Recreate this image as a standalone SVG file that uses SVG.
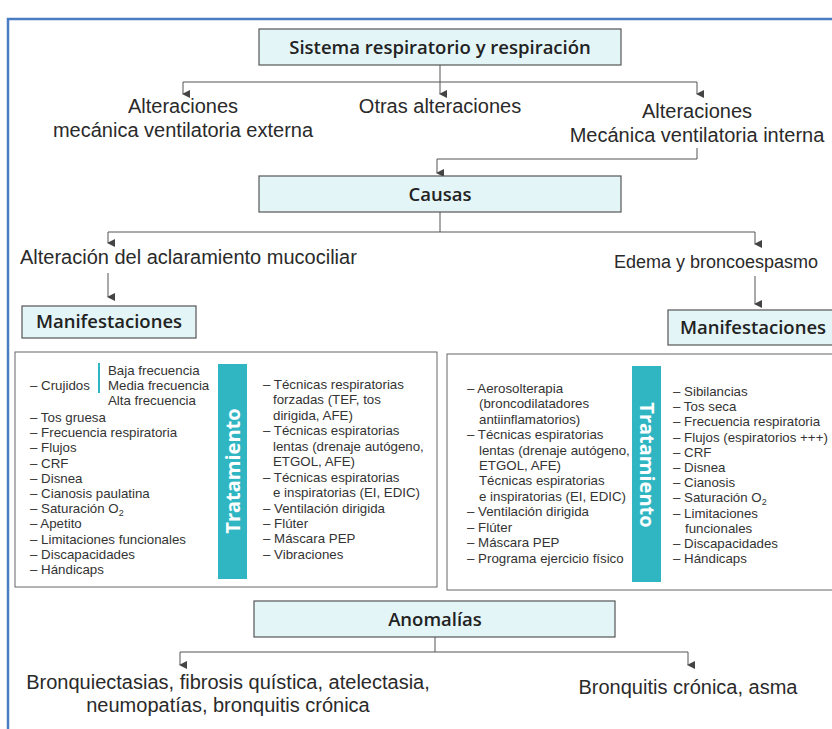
<svg xmlns="http://www.w3.org/2000/svg" width="832" height="729" viewBox="0 0 832 729">
<defs>
<marker id="ah" markerWidth="8" markerHeight="8" refX="4" refY="7" orient="auto-start-reverse" markerUnits="userSpaceOnUse" viewBox="0 0 8 8">
<path d="M0,0 L8,0 L4,8 Z" fill="#444"/>
</marker>
<style>
.hd{fill:#e3f5f7;stroke:#555;stroke-width:1.2}
.ht{font-family:"Open Sans","Liberation Sans",sans-serif;font-weight:600;font-size:18.5px;fill:#222;text-anchor:middle}
.lb{font-family:"Liberation Sans",Arial,sans-serif;font-size:20px;fill:#2a2a2a}
.li{font-family:"Liberation Sans",Arial,sans-serif;font-size:13.3px;fill:#333}
.bx{fill:#fff;stroke:#666;stroke-width:1}
.bar{fill:#2fb6c2}
.bt{font-family:"Open Sans","Liberation Sans",sans-serif;font-weight:700;font-size:20px;fill:#fff;text-anchor:middle}
.cn{fill:none;stroke:#555;stroke-width:1}
.ca{fill:none;stroke:#555;stroke-width:1;marker-end:url(#ah)}
</style>
</defs>
<rect x="0" y="0" width="832" height="729" fill="#fff"/>
<path d="M8,729 L8,19 L832,19" fill="none" stroke="#4a7cc4" stroke-width="2.5"/>

<g id="connectors">
<path class="cn" d="M440,65 L440,82 M183,82 L697,82"/>
<path class="ca" d="M183,82 L183,94"/>
<path class="ca" d="M440,82 L440,94"/>
<path class="ca" d="M697,82 L697,94"/>
<path class="cn" d="M697,148 L697,159 L437,159"/>
<path class="ca" d="M437,159 L437,173"/>
<path class="cn" d="M440,212 L440,232 M108,232 L755,232"/>
<path class="ca" d="M108,232 L108,243"/>
<path class="ca" d="M755,232 L755,244"/>
<path class="ca" d="M108,273 L108,297"/>
<path class="ca" d="M755,276 L755,304"/>
<path class="cn" d="M435,637 L435,652 M180,652 L688,652"/>
<path class="ca" d="M180,652 L180,665"/>
<path class="ca" d="M688,652 L688,665"/>
</g>

<g id="sistema">
<rect class="hd" x="259" y="29" width="362" height="36"/>
<text class="ht" x="440" y="54">Sistema respiratorio y respiración</text>
</g>

<g id="alt-externa">
<text class="lb" x="183" y="113" text-anchor="middle">Alteraciones</text>
<text class="lb" x="183" y="137" text-anchor="middle">mecánica ventilatoria externa</text>
</g>
<g id="otras">
<text class="lb" x="440" y="113" text-anchor="middle">Otras alteraciones</text>
</g>
<g id="alt-interna">
<text class="lb" x="697" y="118" text-anchor="middle">Alteraciones</text>
<text class="lb" x="697" y="142" text-anchor="middle">Mecánica ventilatoria interna</text>
</g>

<g id="causas">
<rect class="hd" x="259" y="176" width="362" height="36"/>
<text class="ht" x="440" y="201">Causas</text>
</g>

<g id="aclaramiento">
<text class="lb" x="20" y="264">Alteración del aclaramiento mucociliar</text>
</g>
<g id="edema">
<text class="lb" x="614" y="268" style="font-size:18px">Edema y broncoespasmo</text>
</g>

<g id="manif-left">
<rect class="hd" x="22" y="306" width="174" height="32"/>
<text class="ht" x="109" y="328">Manifestaciones</text>
</g>
<g id="manif-right">
<rect class="hd" x="668" y="310" width="170" height="35"/>
<text class="ht" x="753" y="334">Manifestaciones</text>
</g>

<g id="box-left">
<rect class="bx" x="15" y="352" width="422" height="235"/>
<text class="li" x="30" y="390">– Crujidos</text>
<line x1="99" y1="363" x2="99" y2="393" stroke="#2fb6c2" stroke-width="2"/>
<text class="li" x="108" y="375">Baja frecuencia</text>
<text class="li" x="108" y="390">Media frecuencia</text>
<text class="li" x="108" y="405">Alta frecuencia</text>
<text class="li" x="30" y="422">– Tos gruesa</text>
<text class="li" x="30" y="437">– Frecuencia respiratoria</text>
<text class="li" x="30" y="452">– Flujos</text>
<text class="li" x="30" y="468">– CRF</text>
<text class="li" x="30" y="483">– Disnea</text>
<text class="li" x="30" y="498">– Cianosis paulatina</text>
<text class="li" x="30" y="513">– Saturación O<tspan font-size="9" dy="3">2</tspan></text>
<text class="li" x="30" y="528">– Apetito</text>
<text class="li" x="30" y="544">– Limitaciones funcionales</text>
<text class="li" x="30" y="559">– Discapacidades</text>
<text class="li" x="30" y="574">– Hándicaps</text>
<rect class="bar" x="218" y="364" width="29" height="215"/>
<text class="bt" transform="translate(239.5,471) rotate(-90)">Tratamiento</text>
<text class="li" x="263" y="389">– Técnicas respiratorias</text>
<text class="li" x="273" y="404">forzadas (TEF, tos</text>
<text class="li" x="273" y="420">dirigida, AFE)</text>
<text class="li" x="263" y="435">– Técnicas espiratorias</text>
<text class="li" x="273" y="451">lentas (drenaje autógeno,</text>
<text class="li" x="273" y="466">ETGOL, AFE)</text>
<text class="li" x="263" y="482">– Técnicas espiratorias</text>
<text class="li" x="273" y="497">e inspiratorias (EI, EDIC)</text>
<text class="li" x="263" y="513">– Ventilación dirigida</text>
<text class="li" x="263" y="528">– Flúter</text>
<text class="li" x="263" y="543">– Máscara PEP</text>
<text class="li" x="263" y="559">– Vibraciones</text>
</g>

<g id="box-right">
<rect class="bx" x="447" y="354" width="391" height="236"/>
<text class="li" x="467" y="393">– Aerosolterapia</text>
<text class="li" x="479" y="408">(broncodilatadores</text>
<text class="li" x="479" y="424">antiinflamatorios)</text>
<text class="li" x="467" y="439">– Técnicas espiratorias</text>
<text class="li" x="479" y="455">lentas (drenaje autógeno,</text>
<text class="li" x="479" y="470">ETGOL, AFE)</text>
<text class="li" x="479" y="485">Técnicas espiratorias</text>
<text class="li" x="479" y="501">e inspiratorias (EI, EDIC)</text>
<text class="li" x="467" y="516">– Ventilación dirigida</text>
<text class="li" x="467" y="532">– Flúter</text>
<text class="li" x="467" y="547">– Máscara PEP</text>
<text class="li" x="467" y="563">– Programa ejercicio físico</text>
<rect class="bar" x="632" y="366" width="29" height="216"/>
<text class="bt" transform="translate(639.5,465) rotate(90)">Tratamiento</text>
<text class="li" x="673" y="396">– Sibilancias</text>
<text class="li" x="673" y="411">– Tos seca</text>
<text class="li" x="673" y="426">– Frecuencia respiratoria</text>
<text class="li" x="673" y="442">– Flujos (espiratorios +++)</text>
<text class="li" x="673" y="457">– CRF</text>
<text class="li" x="673" y="472">– Disnea</text>
<text class="li" x="673" y="487">– Cianosis</text>
<text class="li" x="673" y="502">– Saturación O<tspan font-size="9" dy="3">2</tspan></text>
<text class="li" x="673" y="518">– Limitaciones</text>
<text class="li" x="685" y="533">funcionales</text>
<text class="li" x="673" y="548">– Discapacidades</text>
<text class="li" x="673" y="563">– Hándicaps</text>
</g>

<g id="anomalias">
<rect class="hd" x="254" y="601" width="361" height="36"/>
<text class="ht" x="435" y="626">Anomalías</text>
</g>
<g id="bronquiectasias">
<text class="lb" x="228" y="689" text-anchor="middle">Bronquiectasias, fibrosis quística, atelectasia,</text>
<text class="lb" x="228" y="712" text-anchor="middle">neumopatías, bronquitis crónica</text>
</g>
<g id="bronquitis">
<text class="lb" x="688" y="694" text-anchor="middle">Bronquitis crónica, asma</text>
</g>
</svg>
